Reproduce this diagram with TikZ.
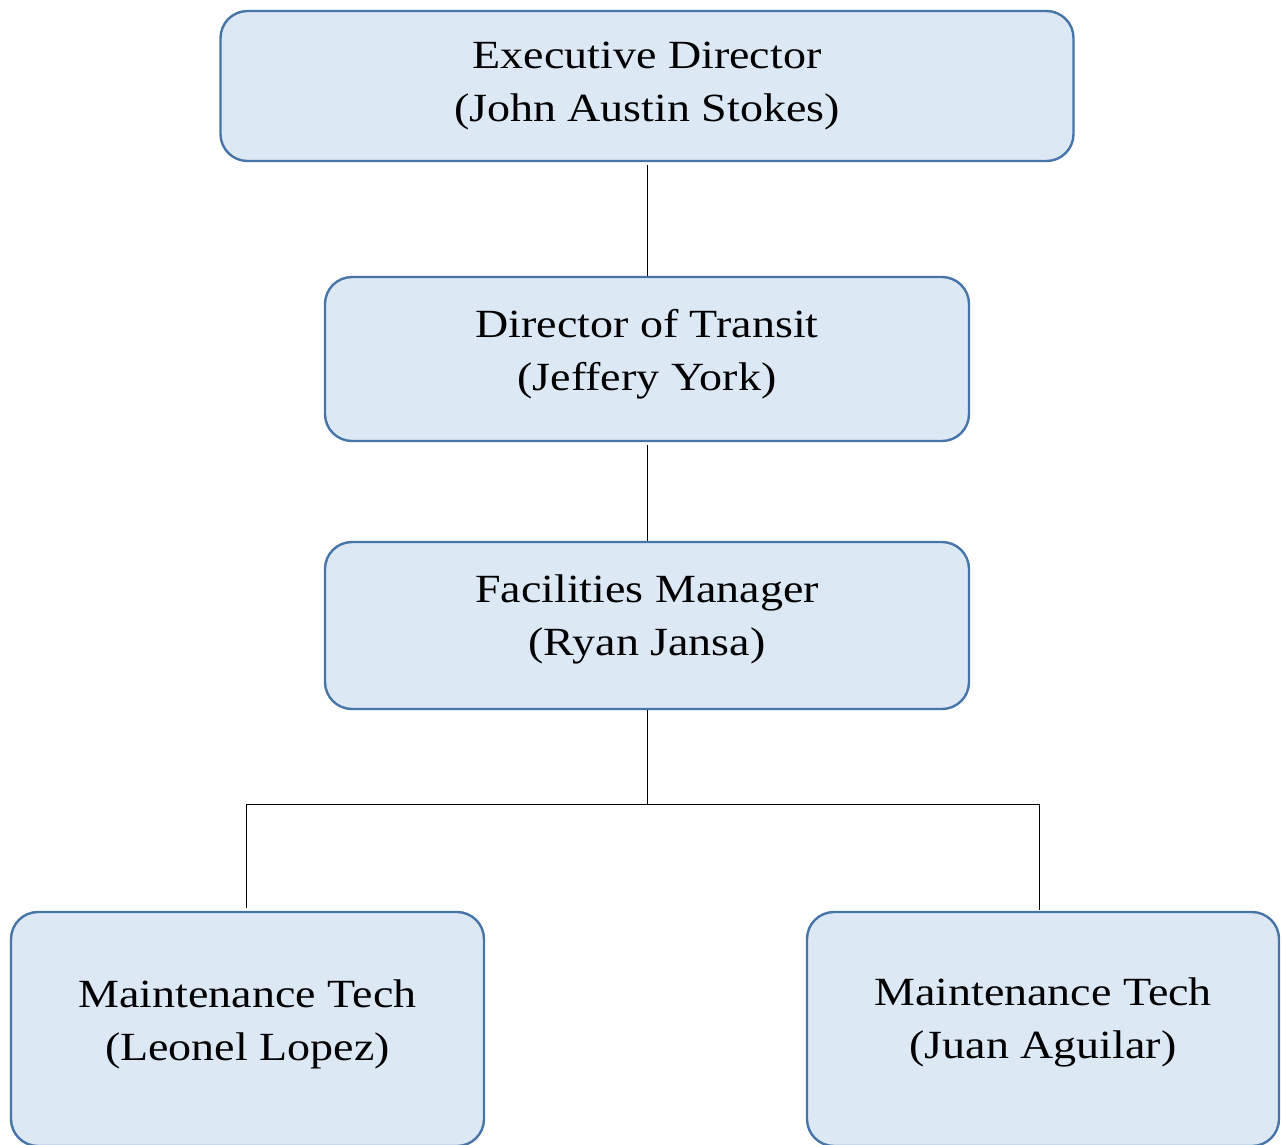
\documentclass[tikz,border=0pt]{standalone}
\usepackage{fontspec}
\setmainfont[FakeStretch=1.15]{Liberation Serif}
\definecolor{boxfill}{RGB}{221,232,245}
\definecolor{boxline}{RGB}{72,117,168}
\tikzset{
  role/.style={draw=boxline, fill=boxfill, line width=2.4pt, rounded corners=27pt, inner sep=0pt},
  roletext/.style={align=center, inner sep=0pt, font=\fontsize{40}{53}\selectfont},
  link/.style={draw=black, line width=1pt}
}
\begin{document}
\begin{tikzpicture}[x=1pt,y=-1pt]
  \useasboundingbox (0,0) rectangle (1282,1144);
  \clip (0,0) rectangle (1282,1144);

  % boxes
  \node[role, minimum width=853pt, minimum height=150pt] (exec) at (647,86) {};
  \node[role, minimum width=644pt, minimum height=164pt] (dir) at (647,359) {};
  \node[role, minimum width=644pt, minimum height=167pt] (fac) at (647,625.5) {};
  \node[role, minimum width=473pt, minimum height=234pt] (techa) at (247.5,1029) {};
  \node[role, minimum width=472pt, minimum height=234pt] (techb) at (1043,1029) {};

  % titles
  \node[roletext] (exect) at (647,86) {Executive Director\\(John Austin Stokes)};
  \node[roletext] (dirt) at (647,354) {Director of Transit\\(Jeffery York)};
  \node[roletext] (fact) at (647,619) {Facilities Manager\\(Ryan Jansa)};
  \node[roletext] (techat) at (247.5,1024) {Maintenance Tech\\(Leonel Lopez)};
  \node[roletext] (techbt) at (1043,1022) {Maintenance Tech\\(Juan Aguilar)};

  % reporting lines
  \coordinate (hub) at (647,804);
  \coordinate (lefta) at (246,804);
  \coordinate (righta) at (1039,804);
  \draw[link] ([yshift=-3pt]exec.south) -- (dir.north);
  \draw[link] ([yshift=-3pt]dir.south) -- (fac.north);
  \draw[link] (fac.south) -- (hub);
  \draw[link] (lefta) -- (righta);
  \draw[link] (lefta) -- ([yshift=3pt]lefta |- techa.north);
  \draw[link] (righta) -- ([yshift=1pt]righta |- techb.north);
\end{tikzpicture}
\end{document}
